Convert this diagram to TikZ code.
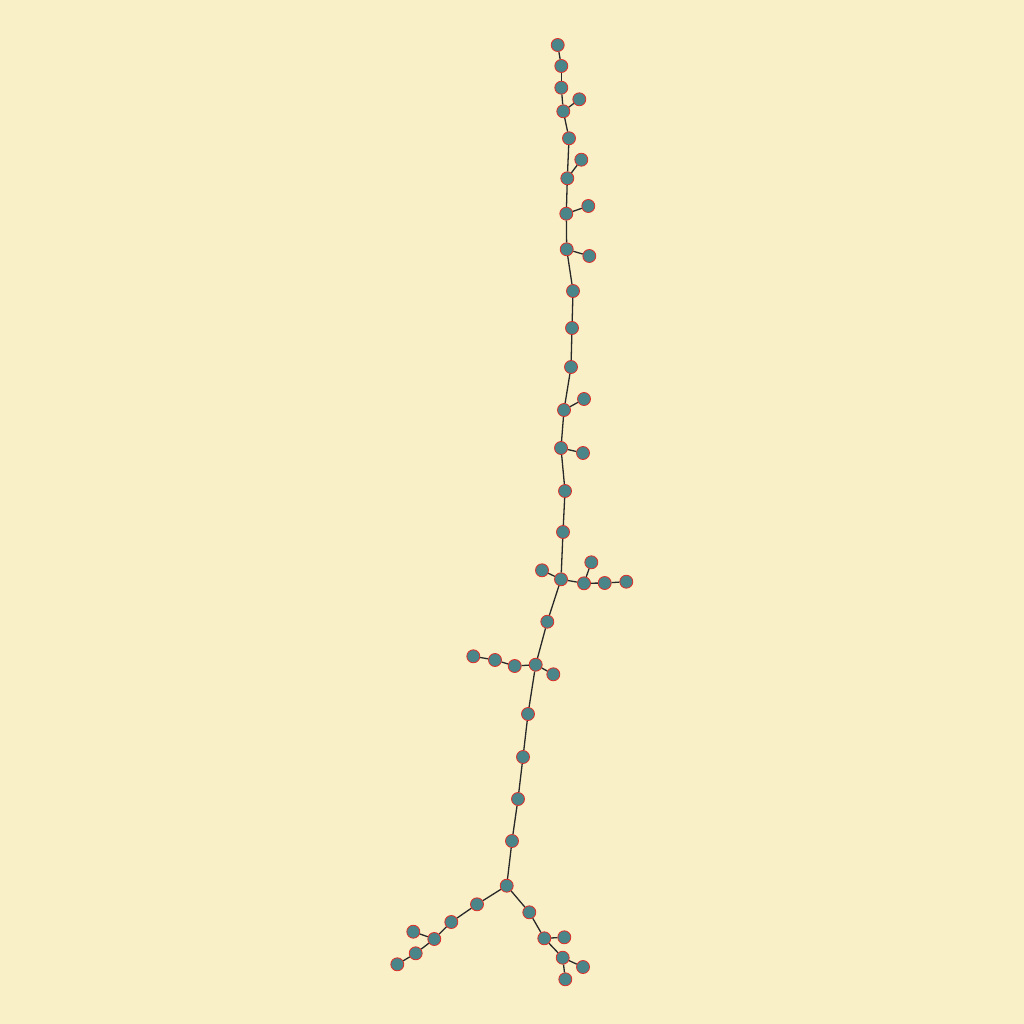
\documentclass[tikz,border=0pt]{standalone}
\usepackage{tikz}

\definecolor{paper}{RGB}{250,240,200}
\definecolor{vteal}{RGB}{74,133,137}
\definecolor{vred}{RGB}{225,45,40}
\definecolor{edgegray}{RGB}{40,40,40}

\tikzset{
	vtx/.style={circle,draw=vred,fill=vteal,line width=0.8pt,minimum size=13pt,inner sep=0pt},
	edge/.style={draw=edgegray,line width=1.3pt}
}

\begin{document}
\begin{tikzpicture}[x=1pt,y=-1pt]
\fill[paper] (0,0) rectangle (1024,1024);
\useasboundingbox (0,0) rectangle (1024,1024);

% trunk, top part
\node[vtx] (v1) at (557.7,45) {};
\node[vtx] (v2) at (561.3,66) {};
\node[vtx] (v3) at (561.3,87.7) {};
\node[vtx] (v4) at (563.3,111.3) {};
\node[vtx] (v5) at (579.3,99.3) {};
\node[vtx] (v6) at (569,138.3) {};
\node[vtx] (v7) at (567.3,178.3) {};
\node[vtx] (v8) at (581.3,159.7) {};
\node[vtx] (v9) at (566.3,213.7) {};
\node[vtx] (v10) at (588.3,206) {};
\node[vtx] (v11) at (566.7,249.3) {};
\node[vtx] (v12) at (589.3,256) {};
\node[vtx] (v13) at (573,291) {};
\node[vtx] (v14) at (572,328) {};
\node[vtx] (v15) at (571,367) {};
\node[vtx] (v16) at (564,410) {};
\node[vtx] (v17) at (584,399) {};
\node[vtx] (v18) at (561,448) {};
\node[vtx] (v19) at (583,453) {};
\node[vtx] (v20) at (565,491) {};
\node[vtx] (v21) at (563,532) {};
% middle branches
\node[vtx] (v22) at (561,579.3) {};
\node[vtx] (v23) at (542,570.3) {};
\node[vtx] (v24) at (584,583.3) {};
\node[vtx] (v25) at (591.3,562.3) {};
\node[vtx] (v26) at (604.7,583) {};
\node[vtx] (v27) at (626.3,581.7) {};
\node[vtx] (v28) at (547.3,621.7) {};
\node[vtx] (v29) at (535.7,664.7) {};
\node[vtx] (v30) at (553.3,674.3) {};
\node[vtx] (v31) at (514.7,666) {};
\node[vtx] (v32) at (495,660) {};
\node[vtx] (v33) at (473.3,656.3) {};
% lower trunk
\node[vtx] (v34) at (528,714) {};
\node[vtx] (v35) at (523,757) {};
\node[vtx] (v36) at (518,799) {};
\node[vtx] (v37) at (512,841) {};
\node[vtx] (v38) at (506.7,885.7) {};
% left fork
\node[vtx] (v39) at (477,904.3) {};
\node[vtx] (v40) at (451.3,922) {};
\node[vtx] (v41) at (434.3,939) {};
\node[vtx] (v42) at (413.3,931.7) {};
\node[vtx] (v43) at (415.7,953.3) {};
\node[vtx] (v44) at (397.3,964.3) {};
% right fork
\node[vtx] (v45) at (529.3,912.3) {};
\node[vtx] (v46) at (544.3,938.3) {};
\node[vtx] (v47) at (564.3,937.3) {};
\node[vtx] (v48) at (562.7,957.7) {};
\node[vtx] (v49) at (583,967) {};
\node[vtx] (v50) at (565.3,979.3) {};

\foreach \a/\b in {v1/v2,v2/v3,v3/v4,v4/v5,v4/v6,v6/v7,v7/v8,v7/v9,v9/v10,v9/v11,
	v11/v12,v11/v13,v13/v14,v14/v15,v15/v16,v16/v17,v16/v18,v18/v19,v18/v20,v20/v21,
	v21/v22,v22/v23,v22/v24,v24/v25,v24/v26,v26/v27,v22/v28,v28/v29,v29/v30,v29/v31,
	v31/v32,v32/v33,v29/v34,v34/v35,v35/v36,v36/v37,v37/v38,
	v38/v39,v39/v40,v40/v41,v41/v42,v41/v43,v43/v44,
	v38/v45,v45/v46,v46/v47,v46/v48,v48/v49,v48/v50}
	{
	\draw[edge] (\a) -- (\b);
	}

\end{tikzpicture}
\end{document}
